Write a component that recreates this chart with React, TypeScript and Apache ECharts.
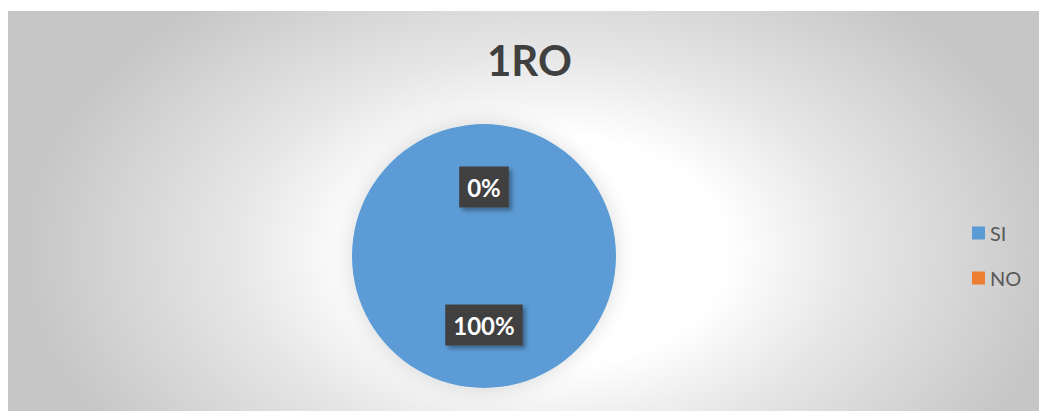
import React, { useEffect, useRef } from "react";
import * as echarts from "echarts";

const titleText = "1RO";
const categories = ["SI", "NO"];
const values = [100, 0];
const colors = ["#5B9BD5", "#ED7D31"];

export default function App() {
  const ref = useRef<HTMLDivElement>(null);
  useEffect(() => {
    if (!ref.current) return;
    const chart = echarts.init(ref.current, undefined, { renderer: "svg" });
    const total = values.reduce((a, b) => a + b, 0);
    chart.setOption({
      animation: false,
      backgroundColor: "transparent",
      title: {
        text: titleText,
        left: 479,
        top: 24,
        padding: 0,
        textStyle: {
          fontFamily: "Lato",
          fontWeight: "bold",
          fontSize: 42,
          lineHeight: 50,
          color: "#404040",
        },
      },
      legend: {
        orient: "vertical",
        left: 959,
        top: 207,
        itemWidth: 13,
        itemHeight: 13,
        itemGap: 25,
        icon: "rect",
        data: categories,
        textStyle: {
          fontFamily: "Lato",
          fontSize: 20,
          lineHeight: 20,
          color: "#595959",
        },
      },
      series: [
        {
          type: "pie",
          center: [476, 245],
          radius: [0, 132],
          startAngle: 90,
          clockwise: true,
          avoidLabelOverlap: false,
          minShowLabelAngle: 0,
          data: categories.map((c, i) => ({
            name: c,
            value: values[i],
            itemStyle: { color: colors[i] },
          })),
          itemStyle: {
            shadowBlur: 20,
            shadowColor: "rgba(0,0,0,0.14)",
            borderWidth: 0,
          },
          label: {
            show: true,
            position: "inside",
            formatter: (p: any) => Math.round((p.value / total) * 100) + "%",
            fontFamily: "Lato",
            fontWeight: "bold",
            fontSize: 24,
            color: "#ffffff",
            backgroundColor: "#404040",
            padding: [9, 8, 8, 8],
            shadowColor: "rgba(0,0,0,0.35)",
            shadowBlur: 4,
            shadowOffsetX: 3,
            shadowOffsetY: 3,
          },
          labelLine: { show: false },
          emphasis: { disabled: true },
        },
      ],
    });
    return () => chart.dispose();
  }, []);
  return (
    <div
      ref={ref}
      style={{
        position: "absolute",
        left: 8,
        top: 11,
        width: 1031,
        height: 400,
        background:
          "radial-gradient(ellipse 520px 330px at 52% 60%, #ffffff 35%, #e6e6e6 60%, #c6c6c6 100%)",
      }}
    />
  );
}
